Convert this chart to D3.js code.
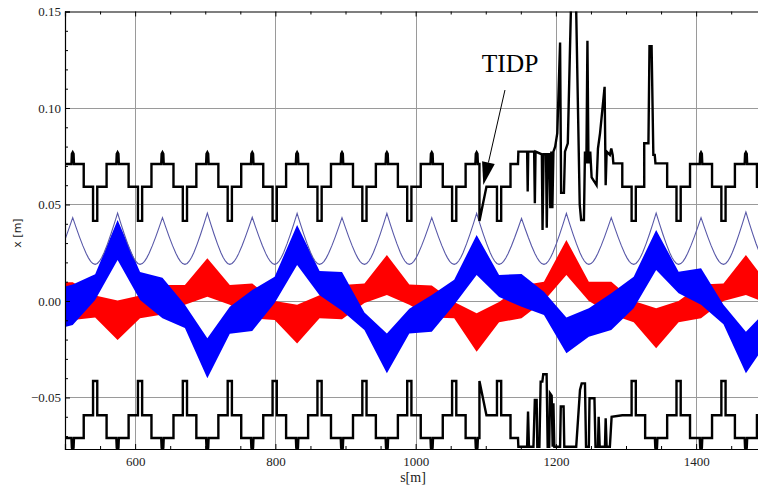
<!DOCTYPE html>
<html><head><meta charset="utf-8">
<script src="https://cdn.jsdelivr.net/npm/d3@7/dist/d3.min.js"></script>
<style>html,body{margin:0;padding:0;background:#fff;}svg{display:block;}
.serif{font-family:"Liberation Serif","Times New Roman",serif;}</style>
</head><body>
<svg id="chart" width="758" height="490"></svg>
<script>
// ---------------- data ----------------
const sDomain = [500, 1500];
const xDomain = [-0.0767, 0.15];
const sMajorTicks = [600, 800, 1000, 1200, 1400];
const sTickLabels = ["600", "800", "1000", "1200", "1400"];
const xMajorTicks = [0.15, 0.10, 0.05, 0.00, -0.05];
const xTickLabels = ["0.15", "0.10", "0.05", "0.00", "\u22120.05"];

// focusing quad positions (peaks of the thin beta-like line)
const fQuads = [447, 511, 575, 639, 703, 767, 831, 895, 959, 1023, 1087, 1151, 1215, 1279, 1343, 1407, 1471, 1535];
const betaPeaks = [0.0455, 0.0432, 0.0455, 0.0432, 0.0455, 0.0434, 0.0454, 0.0432, 0.0454, 0.0432, 0.0454, 0.0428, 0.0454, 0.0432, 0.0455, 0.0432, 0.0460, 0.0432];
const betaTrough = 0.0190;
// half-cell shape (fraction of half cell from trough, fraction of rise)
const betaShape = [[0, 0], [0.1, 0.017], [0.2, 0.065], [0.3, 0.138], [0.4, 0.232], [0.55, 0.40], [0.7, 0.588], [0.85, 0.79], [1, 1]];

// aperture profile of one cell, offsets from the F quad
const apertureCell = [[-1.8, 0.0710], [-1.2, 0.0762], [0, 0.0770], [1.2, 0.0762], [1.8, 0.0710],
  [15.7, 0.0710], [15.7, 0.0592], [29, 0.0592], [29, 0.0415], [35, 0.0415], [35, 0.0592],
  [48.3, 0.0592], [48.3, 0.0710]];

const tidpUpper = [[1091, 0.0710], [1091, 0.0415], [1101, 0.0592], [1103, 0.0592]];
const tidpLower = [[1091, -0.0710], [1091, -0.0415], [1101, -0.0592], [1103, -0.0592]];

const upperIrregular = [[1135.3, 0.0592], [1135.3, 0.0710], [1146, 0.0710], [1146.5, 0.0774], [1159, 0.0774],
  [1159.8, 0.0567], [1160.6, 0.0774], [1169, 0.0774], [1170, 0.0506], [1171, 0.0774], [1180, 0.0760],
  [1181, 0.0368], [1182.5, 0.0760], [1186, 0.0760], [1187, 0.0380], [1188.5, 0.0760], [1191, 0.0760],
  [1192, 0.0480], [1193.5, 0.0774], [1195, 0.0480], [1196.5, 0.0774], [1199, 0.0800], [1202, 0.0870],
  [1206, 0.1339], [1207.5, 0.0560], [1211.5, 0.0560], [1213, 0.0774], [1217, 0.0817], [1222, 0.1600],
  [1228.5, 0.1600], [1234, 0.0500], [1236, 0.0420], [1240, 0.0420], [1241.5, 0.0774], [1243.5, 0.0713],
  [1245, 0.1349], [1246.5, 0.0713], [1249, 0.0774], [1251, 0.0640], [1258, 0.0600], [1260, 0.0790],
  [1263, 0.0870], [1269.5, 0.1110], [1271, 0.0600], [1272.4, 0.0774], [1277, 0.0757], [1279, 0.0790],
  [1281, 0.0757], [1282, 0.0713], [1294.7, 0.0713], [1294.7, 0.0592]];

const upperSpike = [[1326, 0.0592], [1326, 0.0817], [1332, 0.0817], [1333.5, 0.1320], [1336.5, 0.1320],
  [1339, 0.0757], [1341, 0.0757], [1342, 0.0713], [1358.7, 0.0713], [1358.7, 0.0592]];

const lowerIrregular = [[1146, -0.0710], [1146.5, -0.0755], [1159, -0.0755], [1160.3, -0.0573], [1161.6, -0.0755],
  [1168, -0.0755], [1170, -0.0513], [1172.6, -0.0513], [1173.5, -0.0755], [1176.5, -0.0755], [1178.3, -0.0418],
  [1180.7, -0.0418], [1182, -0.0380], [1186.8, -0.0380], [1188.3, -0.0755], [1190.5, -0.0755], [1191.6, -0.0478],
  [1194, -0.0490], [1195.4, -0.0755], [1196.5, -0.0530], [1197.8, -0.0755], [1206, -0.0755], [1207, -0.0547],
  [1211, -0.0547], [1212, -0.0755], [1229, -0.0755], [1234.4, -0.0461], [1236.8, -0.0427], [1241.5, -0.0427],
  [1243, -0.0755], [1247, -0.0755], [1248, -0.0504], [1255, -0.0504], [1256.5, -0.0755], [1260, -0.0755],
  [1261, -0.0600], [1262.5, -0.0755], [1270, -0.0755], [1271, -0.0608], [1272.4, -0.0755], [1277, -0.0755],
  [1279.5, -0.0600], [1294.7, -0.0592]];

// beam envelopes, sampled at the quads
const bandS = [500, 511, 543, 575, 607, 639, 671, 703, 735, 767, 799, 831, 863, 895, 927, 959, 991, 1023, 1055, 1087, 1119, 1151, 1183, 1215, 1247, 1279, 1311, 1343, 1375, 1407, 1439, 1471, 1500];
const blueUpper = [0.0075, 0.0085, 0.0138, 0.0420, 0.0150, 0.0120, -0.0020, -0.0193, -0.0030, 0.0057, 0.0126, 0.0394, 0.0155, 0.0150, -0.0060, -0.0168, -0.0040, 0.0031, 0.0110, 0.0342, 0.0135, 0.0140, 0.0048, -0.0086, -0.0038, 0.0040, 0.0126, 0.0368, 0.0152, 0.0169, -0.0020, -0.0159, -0.0050];
const blueLower = [-0.0135, -0.0125, 0.0005, 0.0212, 0.0005, -0.0090, -0.0140, -0.0400, -0.0170, -0.0155, -0.0010, 0.0187, 0.0030, -0.0050, -0.0150, -0.0375, -0.0168, -0.0159, -0.0020, 0.0135, 0.0020, -0.0030, -0.0073, -0.0271, -0.0185, -0.0150, -0.0038, 0.0160, 0.0040, -0.0020, -0.0120, -0.0375, -0.0220];
const redUpper = [0.0097, 0.0097, 0.0028, 0.0002, 0.0028, 0.0083, 0.0083, 0.0221, 0.0083, 0.0090, 0.0000, -0.0020, 0.0030, 0.0083, 0.0090, 0.0238, 0.0085, 0.0080, -0.0005, -0.0064, -0.0005, 0.0080, 0.0100, 0.0316, 0.0100, 0.0100, 0.0000, -0.0038, 0.0000, 0.0085, 0.0090, 0.0238, 0.0100];
const redLower = [-0.0098, -0.0098, -0.0086, -0.0202, -0.0090, -0.0070, -0.0020, 0.0022, -0.0020, -0.0090, -0.0098, -0.0220, -0.0090, -0.0095, -0.0010, 0.0031, -0.0020, -0.0085, -0.0090, -0.0263, -0.0110, -0.0090, 0.0000, 0.0135, 0.0000, -0.0070, -0.0110, -0.0245, -0.0110, -0.0090, 0.0000, 0.0031, -0.0010];

// annotation
const annText = "TIDP";
const annTextPos = [1094.2, 0.1187];
const annArrowFrom = [1127.4, 0.1093];
const annArrowTo = [1096.5, 0.0601];

// ---------------- chart ----------------
const W = 758, H = 490;
const padL = 65, padT = 11.5, padB = 449;
const x = d3.scaleLinear().domain(sDomain).range([padL, padL + 1000 * 0.70125]);
const y = d3.scaleLinear().domain(xDomain).range([padB, padT]);

const svg = d3.select("#chart");
svg.append("defs").append("clipPath").attr("id", "plotclip")
  .append("rect").attr("x", padL).attr("y", padT).attr("width", W - padL).attr("height", padB - padT);

const plot = svg.append("g").attr("clip-path", "url(#plotclip)");

// grid
plot.append("g").selectAll("line").data([0.10, 0.05, 0.00, -0.05]).join("line")
  .attr("x1", padL).attr("x2", W).attr("y1", d => Math.round(y(d)) + 0.5).attr("y2", d => Math.round(y(d)) + 0.5)
  .attr("stroke", "#9a9a9a").attr("stroke-width", 1);
plot.append("g").selectAll("line").data(sMajorTicks).join("line")
  .attr("y1", padT).attr("y2", padB).attr("x1", d => Math.round(x(d)) + 0.5).attr("x2", d => Math.round(x(d)) + 0.5)
  .attr("stroke", "#9a9a9a").attr("stroke-width", 1);

// bands
const band = (hi, lo) => bandS.map((s, i) => ({ s, hi: hi[i], lo: lo[i] }));
const area = d3.area().x(d => x(d.s)).y0(d => y(d.lo)).y1(d => y(d.hi));
plot.append("path").datum(band(redUpper, redLower)).attr("d", area).attr("fill", "#ff0000");
plot.append("path").datum(band(blueUpper, blueLower)).attr("d", area).attr("fill", "#0000ff");

// thin beta line
const betaPts = [];
fQuads.forEach((q, i) => {
  if (i === fQuads.length - 1) { betaPts.push([q, betaPeaks[i]]); return; }
  const p0 = betaPeaks[i], p1 = betaPeaks[i + 1], half = (fQuads[i + 1] - q) / 2;
  for (let k = betaShape.length - 1; k > 0; k--) {
    const [t, f] = betaShape[k];
    betaPts.push([q + half * (1 - t), betaTrough + (p0 - betaTrough) * f]);
  }
  for (let k = 0; k < betaShape.length - 1; k++) {
    const [t, f] = betaShape[k];
    betaPts.push([q + half + half * t, betaTrough + (p1 - betaTrough) * f]);
  }
});
const line = d3.line().x(d => x(d[0])).y(d => y(d[1]));
plot.append("path").datum(betaPts).attr("d", line).attr("fill", "none")
  .attr("stroke", "#5858a8").attr("stroke-width", 1.1);

// apertures
function buildAperture(sign, segments) {
  const excl = segments.map(seg => [seg[0][0], seg[seg.length - 1][0]]);
  let pts = [];
  fQuads.forEach(q => apertureCell.forEach(([d, v]) => pts.push([q + d, sign * v])));
  pts = pts.filter(p => !excl.some(([a, b]) => p[0] >= a - 0.01 && p[0] <= b + 0.01));
  segments.forEach(seg => { pts = pts.concat(seg); });
  pts.sort((a, b) => a[0] - b[0]);
  return pts;
}
const upperAp = buildAperture(1, [tidpUpper, upperIrregular, upperSpike]);
const lowerAp = buildAperture(-1, [tidpLower, lowerIrregular]);
[upperAp, lowerAp].forEach(pts => {
  plot.append("path").datum(pts).attr("d", line).attr("fill", "none")
    .attr("stroke", "#000").attr("stroke-width", 2.4).attr("stroke-linejoin", "miter");
});

// axes
const yMinor = d3.range(-7, 16).map(k => k / 100).filter(v => !xMajorTicks.some(m => Math.abs(m - v) < 1e-9));
const sMinor = x.ticks(20).filter(v => !sMajorTicks.includes(v));

const gL = svg.append("g").attr("transform", `translate(${padL},0)`)
  .call(d3.axisLeft(y).tickValues(xMajorTicks).tickSize(-5).tickPadding(4).tickFormat((d, i) => xTickLabels[i]));
svg.append("g").attr("transform", `translate(${padL},0)`)
  .call(d3.axisLeft(y).tickValues(yMinor).tickSize(-3).tickFormat(""))
  .select(".domain").remove();
const gB = svg.append("g").attr("transform", `translate(0,${padB})`)
  .call(d3.axisBottom(x).tickValues(sMajorTicks).tickSize(-5).tickPadding(8).tickFormat((d, i) => sTickLabels[i]));
svg.append("g").attr("transform", `translate(0,${padB})`)
  .call(d3.axisBottom(x).tickValues(sMinor).tickSize(-3).tickFormat(""))
  .select(".domain").remove();
svg.append("g").attr("transform", `translate(0,${padT})`)
  .call(d3.axisTop(x).tickValues(sMajorTicks).tickSize(-5).tickFormat(""));
svg.append("g").attr("transform", `translate(0,${padT})`)
  .call(d3.axisTop(x).tickValues(sMinor).tickSize(-3).tickFormat(""))
  .select(".domain").remove();

[gL, gB].forEach(g => g.attr("font-family", null).attr("font-size", null).attr("class", "serif"));
svg.selectAll(".tick text").attr("class", "serif").style("font-size", "13px").attr("fill", "#222");
svg.selectAll(".domain").attr("stroke", "#000").attr("stroke-width", 1.2);
svg.selectAll(".tick line").attr("stroke", "#000");

// axis titles
svg.append("text").attr("class", "serif").attr("x", 413).attr("y", 482).attr("text-anchor", "middle")
  .style("font-size", "14px").attr("fill", "#222").text("s[m]");
svg.append("text").attr("transform", `translate(21,233) rotate(-90)`).attr("text-anchor", "middle")
  .style("font-family", "'DejaVu Sans', sans-serif").style("font-size", "11px").attr("fill", "#222").text("x [m]");

// annotation
svg.append("text").attr("class", "serif").attr("x", x(annTextPos[0])).attr("y", y(annTextPos[1]))
  .style("font-size", "25.5px").attr("fill", "#000").text(annText);
const ax1 = x(annArrowFrom[0]), ay1 = y(annArrowFrom[1]), ax2 = x(annArrowTo[0]), ay2 = y(annArrowTo[1]);
const len = Math.hypot(ax2 - ax1, ay2 - ay1), ux = (ax2 - ax1) / len, uy = (ay2 - ay1) / len;
const headL = 23, headW = 6.5;
const bx = ax2 - ux * headL, by = ay2 - uy * headL;
svg.append("line").attr("x1", ax1).attr("y1", ay1).attr("x2", bx).attr("y2", by)
  .attr("stroke", "#000").attr("stroke-width", 1);
svg.append("path").attr("d", `M${ax2},${ay2}L${bx - uy * headW},${by + ux * headW}L${bx + uy * headW},${by - ux * headW}Z`)
  .attr("fill", "#000");
</script>
</body></html>
